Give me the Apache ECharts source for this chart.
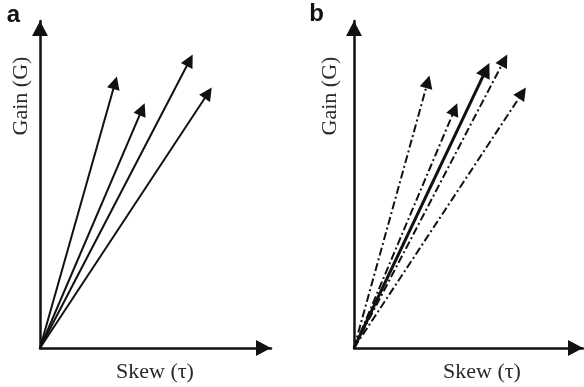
<!DOCTYPE html>
<html><head><meta charset="utf-8">
<script src="https://cdn.jsdelivr.net/npm/echarts@6/dist/echarts.min.js"></script>
<style>html,body{margin:0;padding:0;background:#fff}#c{width:584px;height:387px}</style>
</head><body><div id="c"></div>
<script>
const panelLabels = ['a', 'b'];
const xAxisName = 'Skew (τ)';
const yAxisName = 'Gain (G)';
// panel a: four solid vectors (skew, gain) ending at arrowhead centres
const aSkew = [3.25, 4.42, 6.48, 7.28];
const aGain = [8.11, 7.30, 8.80, 7.80];
// panel b: four dash-dot vectors plus the solid resultant
const bSkew = [3.22, 4.40, 5.77, 6.56, 7.35];
const bGain = [8.14, 7.30, 8.51, 8.80, 7.80];
const bSolid = [false, false, true, false, false];

const INK = '#111';
function axisCommon(idx) {
  return {
    type: 'value', min: 0, max: 10, gridIndex: idx,
    axisLine: { show: true, symbol: ['none', 'triangle'], symbolSize: [16, 15], symbolOffset: [0, -7.5],
      lineStyle: { color: INK, width: 2.5 } },
    axisTick: { show: false }, axisLabel: { show: false }, splitLine: { show: false }
  };
}
function vecSeries(idx, xs, ys, solids) {
  return xs.map((x, i) => {
    const solid = solids ? solids[i] : true;
    const thick = solids && solids[i];
    return {
      type: 'lines', coordinateSystem: 'cartesian2d', xAxisIndex: idx, yAxisIndex: idx,
      silent: true, animation: false,
      symbol: ['none', 'triangle'], symbolSize: thick ? [16, 15] : [13, 13],
      lineStyle: { color: INK, width: thick ? 3 : 2, opacity: 1, curveness: 0, type: solid ? 'solid' : [8, 3, 2, 3] },
      data: [{ coords: [[0, 0], [x, ys[i]]] }]
    };
  });
}
const serif = '22px "Liberation Serif", "Times New Roman", serif';
const bold = 'bold 24px "Liberation Sans", Arial, sans-serif';
const TXT = '#2a2a2a';
const chart = echarts.init(document.getElementById('c'), null, { renderer: 'canvas' });
chart.setOption({
  animation: false,
  grid: [
    { left: 40, top: 21, width: 231, height: 327 },
    { left: 354, top: 21, width: 229, height: 327 }
  ],
  xAxis: [axisCommon(0), axisCommon(1)],
  yAxis: [axisCommon(0), axisCommon(1)],
  series: [].concat(vecSeries(0, aSkew, aGain, null), vecSeries(1, bSkew, bGain, bSolid)),
  graphic: [
    { type: 'text', x: 13.5, y: 15, style: { text: panelLabels[0], font: bold, fill: INK, textAlign: 'center', textVerticalAlign: 'middle' } },
    { type: 'text', x: 316.5, y: 14, style: { text: panelLabels[1], font: bold, fill: INK, textAlign: 'center', textVerticalAlign: 'middle' } },
    { type: 'text', x: 155, y: 372, style: { text: xAxisName, font: serif, fill: TXT, textAlign: 'center', textVerticalAlign: 'middle' } },
    { type: 'text', x: 482, y: 372, style: { text: xAxisName, font: serif, fill: TXT, textAlign: 'center', textVerticalAlign: 'middle' } },
    { type: 'text', x: 21, y: 96, rotation: Math.PI / 2, style: { text: yAxisName, font: serif, fill: TXT, textAlign: 'center', textVerticalAlign: 'middle' } },
    { type: 'text', x: 330, y: 96, rotation: Math.PI / 2, style: { text: yAxisName, font: serif, fill: TXT, textAlign: 'center', textVerticalAlign: 'middle' } }
  ]
});
</script></body></html>
